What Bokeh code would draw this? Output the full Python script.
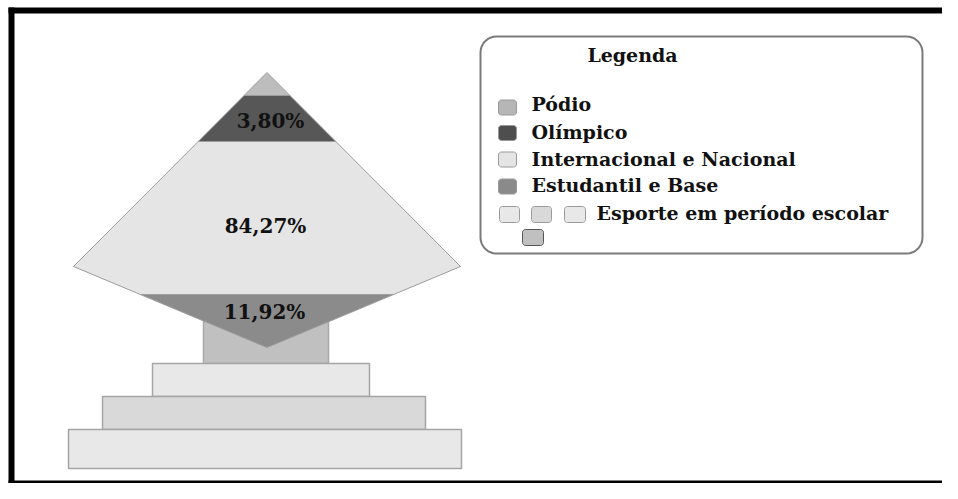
import math
from bokeh.plotting import figure
from bokeh.models import Range1d
from bokeh.core.properties import value
from bokeh.embed import file_html
from bokeh.resources import INLINE

# ---------------- data ----------------
levels = ["Pódio", "Olímpico", "Internacional e Nacional", "Estudantil e Base"]
level_pct = [None, 3.80, 84.27, 11.92]
level_colors = ["#bdbdbd", "#575757", "#e5e5e5", "#8b8b8b"]
swatch_colors = ["#b6b6b6", "#4e4e4e", "#e4e4e4", "#8a8a8a"]
school_label = "Esporte em período escolar"
school_colors = ["#e8e8e8", "#d9d9d9", "#e8e8e8", "#c0c0c0"]  # steps + pedestal
legend_title = "Legenda"

# ---------------- layout (screenshot pixel coordinates) ----------------
W, H = 942, 483
X0, Y0 = 0, 0
FONT = value("DejaVu Serif")

p = figure(width=W, height=H, output_backend="svg", toolbar_location=None,
           x_range=Range1d(X0, X0 + W), y_range=Range1d(Y0 + H, Y0),
           x_axis_type=None, y_axis_type=None, min_border=0,
           background_fill_color="white", border_fill_color="white")
p.grid.visible = False
p.outline_line_color = None


def round_rect(x0, y0, x1, y1, r, n=8):
    xs, ys = [], []
    corners = [(x1 - r, y0 + r, -90, 0), (x1 - r, y1 - r, 0, 90),
               (x0 + r, y1 - r, 90, 180), (x0 + r, y0 + r, 180, 270)]
    for cx, cy, a0, a1 in corners:
        for i in range(n + 1):
            a = math.radians(a0 + (a1 - a0) * i / n)
            xs.append(cx + r * math.cos(a))
            ys.append(cy + r * math.sin(a))
    return xs, ys


# diamond geometry
cx, hw = 266.5, 193.5
y_top, y_mid, y_bot = 72, 266, 347
bounds = [y_top, 95, 141, 294, y_bot]


def half_width(y):
    if y <= y_mid:
        return hw * (y - y_top) / (y_mid - y_top)
    return hw * (y_bot - y) / (y_bot - y_mid)


# pedestal and steps (school sport)
steps = [(152, 369, 363, 396), (102, 425, 396, 429), (68, 461, 429, 468)]
ped = (203, 328, 300, 363)
p.quad(left=[ped[0]], right=[ped[1]], top=[ped[2]], bottom=[ped[3]],
       fill_color=school_colors[3], line_color="#a8a8a8", line_width=1.5)
for (l, r, t, b), c in zip(steps, school_colors[:3]):
    p.quad(left=[l], right=[r], top=[t], bottom=[b],
           fill_color=c, line_color="#a5a5a5", line_width=1.5)

# diamond bands
for i, (name, col) in enumerate(zip(levels, level_colors)):
    ya, yb = bounds[i], bounds[i + 1]
    ys = [ya, yb]
    if ya < y_mid < yb:
        ys = [ya, y_mid, yb]
    left = [(cx - half_width(y), y) for y in ys]
    right = [(cx + half_width(y), y) for y in reversed(ys)]
    pts = left + right
    p.patch([q[0] for q in pts], [q[1] for q in pts], fill_color=col,
            line_color="#9c9c9c", line_width=1)

# percentage labels
lab_pos = [None, (270, 120), (265, 225), (264, 311)]
for pct, pos in zip(level_pct, lab_pos):
    if pct is None:
        continue
    txt = f"{pct:.2f}".replace(".", ",") + "%"
    p.text(x=[pos[0]], y=[pos[1]], text=[txt], text_font=FONT,
           text_font_style="bold", text_font_size="20px",
           text_align="center", text_baseline="middle", text_color="#111111")

# legend box
bx, by = round_rect(480, 36, 922, 253, 16)
p.patch(bx, by, fill_color="white", line_color="#7a7a7a", line_width=2)
p.text(x=[632], y=[54], text=[legend_title], text_font=FONT,
       text_font_style="bold", text_font_size="19px",
       text_align="center", text_baseline="middle", text_color="#111111")

row_y = [103, 131, 158, 184]
sw_y = [107, 132.5, 159, 186]
for name, col, ty, sy in zip(levels, swatch_colors, row_y, sw_y):
    sx, syy = round_rect(498, sy - 7.5, 516, sy + 7.5, 3, 4)
    p.patch(sx, syy, fill_color=col, line_color="#999999", line_width=1)
    p.text(x=[531], y=[ty], text=[name], text_font=FONT,
           text_font_style="bold", text_font_size="19px",
           text_align="left", text_baseline="middle", text_color="#111111")

school_sw = [(499, 519, 214), (531, 551, 214), (564, 585, 214), (522, 543, 237)]
for (l, r, yc), col in zip(school_sw, school_colors):
    sx, syy = round_rect(l, yc - 8, r, yc + 8, 3, 4)
    lc = "#555555" if col == school_colors[3] else "#9a9a9a"
    p.patch(sx, syy, fill_color=col, line_color=lc, line_width=1)
p.text(x=[596], y=[212], text=[school_label], text_font=FONT,
       text_font_style="bold", text_font_size="19px",
       text_align="left", text_baseline="middle", text_color="#111111")

# black frame
p.line([8, X0 + W], [10, 10], line_color="black", line_width=6)
p.line([11, 11], [7, Y0 + H], line_color="black", line_width=6)
p.line([8, X0 + W], [Y0 + H - 1.5, Y0 + H - 1.5], line_color="black", line_width=3)

open("out.html", "w").write(file_html(p, INLINE))
